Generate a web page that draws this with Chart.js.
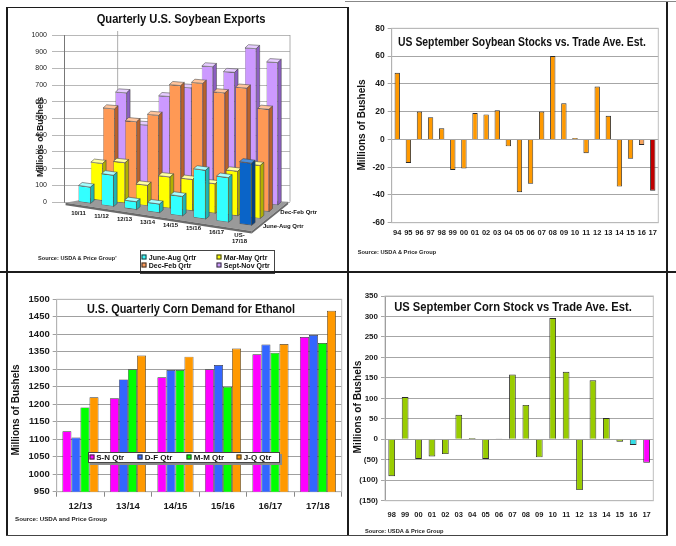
<!DOCTYPE html>
<html lang="en">
<head>
<meta charset="UTF-8">
<style>
  * { margin: 0; padding: 0; box-sizing: border-box; }
  body {
    width: 676px; height: 546px; position: relative; overflow: hidden;
    background: #fff; font-family: "Liberation Sans", Arial, sans-serif;
  }
  canvas { position: absolute; }
  .ln { position: absolute; background: #1c1c1c; }
  .lbl { position: absolute; white-space: nowrap; font-weight: bold; color: #111; }
  .src { position: absolute; white-space: nowrap; font-weight: bold; color: #222; transform: translateY(-50%); }
  .legend { position: absolute; background: #fff; border: 1px solid #444; }
  .legend span { position: absolute; white-space: nowrap; font-weight: bold; color: #111; transform: translateY(-50%); }
  .legend i { position: absolute; width: 5px; height: 5px; border: 1px solid #333; transform: translate(-50%, -50%); }
</style>
</head>
<body>
<canvas id="soyExports" width="338" height="262" style="left:8px;top:8px"></canvas>
<canvas id="soyStocks" width="318" height="268" style="left:349px;top:0px"></canvas>
<canvas id="ethanol" width="338" height="262" style="left:8px;top:273px"></canvas>
<canvas id="cornStocks" width="318" height="262" style="left:349px;top:273px"></canvas>

<!-- titles -->
<div class="lbl" style="left:181px;top:19.3px;font-size:12px;transform:translate(-50%,-50%) scaleX(0.93)">Quarterly U.S. Soybean Exports</div>
<div class="lbl" style="left:522px;top:42px;font-size:12.5px;transform:translate(-50%,-50%) scaleX(0.83)">US September Soybean Stocks vs. Trade Ave. Est.</div>
<div class="lbl" style="left:191px;top:308.3px;font-size:13px;transform:translate(-50%,-50%) scaleX(0.84)">U.S. Quarterly Corn Demand for Ethanol</div>
<div class="lbl" style="left:512.5px;top:305.7px;font-size:13.5px;transform:translate(-50%,-50%) scaleX(0.83)">US September Corn Stock vs Trade Ave. Est.</div>

<!-- value axis titles -->
<div class="lbl" style="left:40px;top:137px;font-size:8.8px;transform:translate(-50%,-50%) rotate(-90deg)">Millions of Bushels</div>
<div class="lbl" style="left:361px;top:125px;font-size:10px;transform:translate(-50%,-50%) rotate(-90deg)">Millions of Bushels</div>
<div class="lbl" style="left:15px;top:410px;font-size:10px;transform:translate(-50%,-50%) rotate(-90deg)">Millions of Bushels</div>
<div class="lbl" style="left:356.7px;top:406.7px;font-size:10.2px;transform:translate(-50%,-50%) rotate(-90deg)">Millions of Bushels</div>

<!-- sources -->
<div class="src" style="left:38px;top:258.3px;font-size:5.6px">Source: USDA &amp; Price Group'</div>
<div class="src" style="left:357.7px;top:252.3px;font-size:5.7px">Source: USDA &amp; Price Group</div>
<div class="src" style="left:15px;top:518.3px;font-size:6.2px">Source: USDA and Price Group</div>
<div class="src" style="left:365px;top:530.7px;font-size:5.7px">Source: USDA &amp; Price Group</div>

<div id="soyLegend" class="legend" style="left:140px;top:250px;width:135px;height:24px"></div>
<div id="ethLegend" class="legend" style="left:88px;top:451.5px;width:192px;height:11.5px;box-shadow:2px 2px 0 #8a8a8a"></div>

<!-- panel frames -->
<div class="ln" style="left:6px;top:6.5px;width:342px;height:1.5px"></div>
<div class="ln" style="left:6px;top:7px;width:1.5px;height:529px"></div>
<div class="ln" style="left:345px;top:1px;width:331px;height:1.2px;background:#888"></div>
<div class="ln" style="left:346.5px;top:7px;width:2px;height:529px"></div>
<div class="ln" style="left:0px;top:270.5px;width:676px;height:2px"></div>
<div class="ln" style="left:666px;top:2px;width:1.5px;height:534px"></div>
<div class="ln" style="left:6px;top:534.5px;width:661.5px;height:1.5px;background:#444"></div>

<script src="https://cdn.jsdelivr.net/npm/chart.js"></script>
<script>
// ---- data ----
const soyQtrCats = ['10/11', '11/12', '12/13', '13/14', '14/15', '15/16', '16/17', ['US-', '17/18']];
const soyQtrNames = ['June-Aug Qrtr', 'Mar-May Qrtr', 'Dec-Feb Qrtr', 'Sept-Nov Qrtr'];
const soyJunAug = [100, 190, 50, 55, 120, 295, 270, 375];
const soyMarMay = [225, 245, 125, 190, 190, 180, 270, 320];
const soyDecFeb = [535, 470, 520, 710, 735, 690, 730, 615];
const soySepNov = [615, 430, 610, 670, 805, 780, 930, 855];

const soyStockYears = ['94', '95', '96', '97', '98', '99', '00', '01', '02', '03', '04', '05',
                       '06', '07', '08', '09', '10', '11', '12', '13', '14', '15', '16', '17'];
const soyStockMiss = [48, -17, 20, 16, 8, -22, -21, 19, 18, 21, -5, -38,
                      -32, 20, 60, 26, 1, -10, 38, 17, -34, -14, -4, -37];

const ethCats = ['12/13', '13/14', '14/15', '15/16', '16/17', '17/18'];
const ethNames = ['S-N Qtr', 'D-F Qtr', 'M-M Qtr', 'J-Q Qtr'];
const ethSN = [1123, 1217, 1277, 1300, 1343, 1392];
const ethDF = [1105, 1271, 1298, 1312, 1371, 1398];
const ethMM = [1191, 1300, 1298, 1250, 1347, 1375];
const ethJQ = [1220, 1339, 1336, 1359, 1372, 1467];

const cornStockYears = ['98', '99', '00', '01', '02', '03', '04', '05', '06', '07',
                        '08', '09', '10', '11', '12', '13', '14', '15', '16', '17'];
const cornStockMiss = [-90, 103, -48, -42, -36, 60, 3, -48, 2, 158,
                       84, -44, 296, 165, -124, 144, 52, -6, -14, -57];

// ---- styles ----
const soyFace = ['#33FFFF', '#FFFF00', '#FF9955', '#CC99FF'];
const soyTop = ['#A6FFFF', '#FFFFA0', '#FFC49C', '#E6CCFF'];
const soySide = ['#1FB3B3', '#B0B000', '#B8622C', '#8C5FC2'];
const ethColors = ['#FF00FF', '#3366FF', '#00FF00', '#FF9900'];
const FONT = '"Liberation Sans", Arial, sans-serif';

Chart.defaults.font.family = FONT;
Chart.defaults.color = '#1a1a1a';
Chart.defaults.animation = false;
Chart.defaults.plugins.legend.display = false;
Chart.defaults.plugins.tooltip.enabled = false;

const plain = v => v;

// light border round the plot area
const frame = {
  id: 'frame',
  beforeDatasetsDraw(chart, args, opts) {
    const a = chart.chartArea, ctx = chart.ctx;
    ctx.save();
    ctx.strokeStyle = opts.color || '#bfbfbf';
    ctx.lineWidth = 1;
    ctx.strokeRect(a.left, a.top, a.right - a.left, a.bottom - a.top);
    ctx.restore();
  }
};

// fake 3D: each series is one row in depth, shifted back and sheared
function rowGeo(chart, k) {
  const a = chart.chartArea;
  const c0 = chart.scales.x.getPixelForValue(0);
  const A = a.left + 20.5 + 12.17 * k;
  const B = 0.814 - 0.0165 * k;
  const s = 0.137 - 0.024 * k;
  const dy = 1 - 2.6 * k;
  return [B, s * B, 0, 1, A - B * c0, dy - s * B * c0];
}
function project(m, x, y) { return [m[0] * x + m[4], m[1] * x + y + m[5]]; }

const depth = {
  id: 'depth',
  beforeDatasetsDraw(chart) {
    const ctx = chart.ctx, a = chart.chartArea;
    const y0 = chart.scales.y.getPixelForValue(0);
    const front = rowGeo(chart, -0.6), back = rowGeo(chart, 3.6);
    const fl = project(front, a.left, y0), fr = project(front, a.right, y0);
    const br = project(back, a.right, y0), bl = project(back, a.left, y0);
    ctx.save();
    ctx.strokeStyle = '#999';
    ctx.lineWidth = 0.8;
    ctx.beginPath();
    ctx.moveTo(bl[0], bl[1]); ctx.lineTo(bl[0], a.top - 4);
    ctx.moveTo(a.right, br[1]); ctx.lineTo(a.right, a.top);
    ctx.stroke();
    ctx.fillStyle = '#9a9a9a';
    ctx.beginPath();
    ctx.moveTo(fl[0], fl[1]); ctx.lineTo(fr[0], fr[1]); ctx.lineTo(br[0], br[1]); ctx.lineTo(bl[0], bl[1]);
    ctx.closePath(); ctx.fill();
    ctx.fillStyle = '#6a6a6a';
    ctx.beginPath();
    ctx.moveTo(fl[0], fl[1]); ctx.lineTo(fr[0], fr[1]); ctx.lineTo(fr[0], fr[1] + 2.5); ctx.lineTo(fl[0], fl[1] + 2.5);
    ctx.closePath(); ctx.fill();
    ctx.beginPath();
    ctx.moveTo(fr[0], fr[1]); ctx.lineTo(br[0], br[1]); ctx.lineTo(br[0], br[1] + 2.5); ctx.lineTo(fr[0], fr[1] + 2.5);
    ctx.closePath(); ctx.fill();
    ctx.restore();
  },
  beforeDatasetDraw(chart, args) {
    const m = rowGeo(chart, args.index);
    chart.ctx.save();
    chart.ctx.transform(m[0], m[1], m[2], m[3], m[4], m[5]);
  },
  afterDatasetDraw(chart, args) {
    const ctx = chart.ctx, k = args.index;
    const dd = 4.5, dz = 3.5;
    args.meta.data.forEach((el, i) => {
      const p = el.getProps(['x', 'y', 'base', 'width'], true);
      const l = p.x - p.width / 2, r = p.x + p.width / 2;
      const last = k === 0 && i === soyQtrCats.length - 1;
      ctx.lineWidth = 0.6;
      ctx.strokeStyle = '#444';
      ctx.fillStyle = last ? '#4A8FDE' : soyTop[k];
      ctx.beginPath();
      ctx.moveTo(l, p.y); ctx.lineTo(r, p.y); ctx.lineTo(r + dd, p.y - dz); ctx.lineTo(l + dd, p.y - dz);
      ctx.closePath(); ctx.fill(); ctx.stroke();
      ctx.fillStyle = last ? '#063F80' : soySide[k];
      ctx.beginPath();
      ctx.moveTo(r, p.y); ctx.lineTo(r + dd, p.y - dz); ctx.lineTo(r + dd, p.base - dz); ctx.lineTo(r, p.base);
      ctx.closePath(); ctx.fill(); ctx.stroke();
    });
    ctx.restore();
  },
  afterDatasetsDraw(chart) {
    const ctx = chart.ctx, a = chart.chartArea, xs = chart.scales.x;
    const y0 = chart.scales.y.getPixelForValue(0);
    const front = rowGeo(chart, 0);
    ctx.save();
    ctx.fillStyle = '#111';
    ctx.font = 'bold 6px ' + FONT;
    ctx.textAlign = 'center';
    ctx.textBaseline = 'middle';
    soyQtrCats.forEach((lab, i) => {
      const pt = project(front, xs.getPixelForValue(i), y0);
      const lines = Array.isArray(lab) ? lab : [lab];
      lines.forEach((t, j) => ctx.fillText(t, pt[0] - 6, pt[1] + 10 + j * 6.5));
    });
    ctx.textAlign = 'left';
    [0, 2].forEach(k => {
      const pt = project(rowGeo(chart, k), a.right, y0);
      ctx.fillText(soyQtrNames[k], pt[0] + 6, pt[1]);
    });
    ctx.restore();
  }
};

new Chart('soyExports', {
  type: 'bar',
  data: {
    labels: soyQtrCats,
    datasets: [soyJunAug, soyMarMay, soyDecFeb, soySepNov].map((d, k) => ({
      label: soyQtrNames[k],
      data: d,
      backgroundColor: k === 0 ? d.map((v, i) => i === d.length - 1 ? '#0A64C8' : soyFace[0]) : soyFace[k],
      borderColor: '#444',
      borderWidth: 0.6,
      borderSkipped: false,
      grouped: false,
      barPercentage: 0.52,
      categoryPercentage: 1,
      clip: false
    }))
  },
  options: {
    responsive: false,
    layout: { padding: { top: 27, right: 56, bottom: 68, left: 0 } },
    scales: {
      x: { display: false },
      y: {
        min: 0, max: 1000,
        ticks: { stepSize: 100, font: { size: 7 }, padding: 5, color: '#222', callback: plain },
        grid: { color: '#9a9a9a', lineWidth: 0.7, tickLength: 12 },
        border: { color: '#777' },
        afterFit(s) { s.width = 56; }
      }
    }
  },
  plugins: [depth]
});

new Chart('soyStocks', {
  type: 'bar',
  data: {
    labels: soyStockYears,
    datasets: [{
      data: soyStockMiss,
      backgroundColor: soyStockYears.map(y => y === '17' ? '#C00000' : y === '16' ? '#F7A35C' : '#FF9900'),
      borderColor: '#2b2b2b',
      borderWidth: 0.9,
      barPercentage: 0.48,
      categoryPercentage: 1
    }]
  },
  options: {
    responsive: false,
    layout: { padding: { top: 28.3, right: 8.7, bottom: 25.3, left: 0 } },
    scales: {
      x: {
        grid: { display: false, drawTicks: false },
        border: { display: false },
        ticks: { font: { size: 7.5, weight: 'bold' }, padding: 6, maxRotation: 0, autoSkip: false },
        afterFit(s) { s.height = 20; }
      },
      y: {
        min: -60, max: 80,
        ticks: { stepSize: 20, font: { size: 8.5, weight: 'bold' }, padding: 3 },
        grid: { color: '#a6a6a6', tickLength: 4 },
        border: { color: '#7f7f7f' },
        afterFit(s) { s.width = 42.7; }
      }
    }
  },
  plugins: [frame]
});

new Chart('ethanol', {
  type: 'bar',
  data: {
    labels: ethCats,
    datasets: [ethSN, ethDF, ethMM, ethJQ].map((d, k) => ({
      label: ethNames[k],
      data: d,
      backgroundColor: ethColors[k],
      borderColor: '#333',
      borderWidth: 0.7,
      barPercentage: 1,
      categoryPercentage: 0.76
    }))
  },
  options: {
    responsive: false,
    layout: { padding: { top: 26.3, right: 4.3, bottom: 23.3, left: 0 } },
    scales: {
      x: {
        grid: { offset: true, drawOnChartArea: false, tickLength: 5, color: '#888' },
        border: { color: '#888' },
        ticks: { font: { size: 9.5, weight: 'bold' }, padding: 4, maxRotation: 0 },
        afterFit(s) { s.height = 20; }
      },
      y: {
        min: 950, max: 1500,
        ticks: { stepSize: 50, font: { size: 9.5, weight: 'bold' }, padding: 3, callback: plain },
        grid: { color: '#a0a0a0', tickLength: 4 },
        border: { color: '#888' },
        afterFit(s) { s.width = 48.7; }
      }
    }
  },
  plugins: [frame]
});

new Chart('cornStocks', {
  type: 'bar',
  data: {
    labels: cornStockYears,
    datasets: [{
      data: cornStockMiss,
      backgroundColor: cornStockYears.map(y => y === '17' ? '#FF00FF' : y === '16' ? '#33DDE6' : '#99CC00'),
      borderColor: '#2b2b2b',
      borderWidth: 0.9,
      barPercentage: 0.5,
      categoryPercentage: 1
    }]
  },
  options: {
    responsive: false,
    layout: { padding: { top: 23, right: 13.7, bottom: 14.3, left: 0 } },
    scales: {
      x: {
        grid: { display: false, drawTicks: false },
        border: { display: false },
        ticks: { font: { size: 7.5, weight: 'bold' }, padding: 10, maxRotation: 0, autoSkip: false },
        afterFit(s) { s.height = 20; }
      },
      y: {
        min: -150, max: 350,
        ticks: {
          stepSize: 50, font: { size: 8, weight: 'bold' }, padding: 3,
          callback: v => v < 0 ? '(' + (-v) + ')' : v
        },
        grid: { color: '#a6a6a6', tickLength: 4 },
        border: { color: '#7f7f7f' },
        afterFit(s) { s.width = 36; }
      }
    }
  },
  plugins: [frame]
});

// ---- html legends ----
function legendItem(box, x, y, color, text, size) {
  const m = document.createElement('i');
  m.style.left = x + 'px'; m.style.top = y + 'px'; m.style.background = color;
  const t = document.createElement('span');
  t.style.left = (x + 4.5) + 'px'; t.style.top = y + 'px'; t.style.fontSize = size + 'px';
  t.textContent = text;
  box.appendChild(m); box.appendChild(t);
}
const soyBox = document.getElementById('soyLegend');
soyQtrNames.forEach((n, k) => {
  legendItem(soyBox, 3.3 + (k % 2) * 75, 5.5 + Math.floor(k / 2) * 8.3, soyFace[k], n, 7);
});
const ethBox = document.getElementById('ethLegend');
[1.7, 50.3, 99.3, 149.3].forEach((x, k) => legendItem(ethBox, x + 1, 4.8, ethColors[k], ethNames[k], 8));
</script>
</body>
</html>
